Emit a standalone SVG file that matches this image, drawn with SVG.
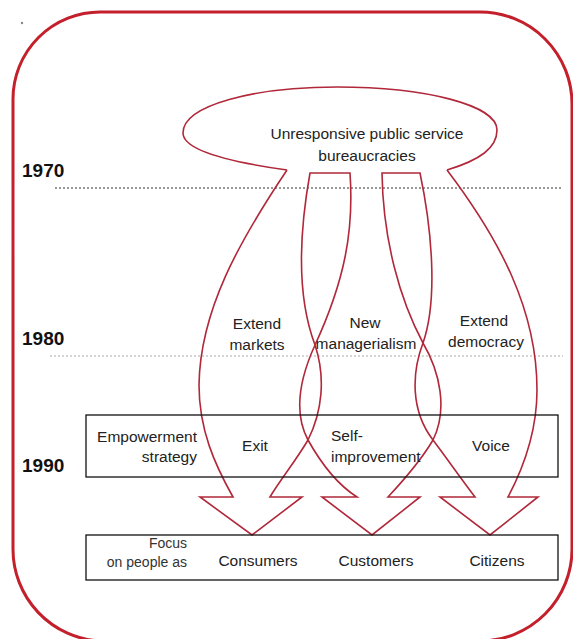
<svg xmlns="http://www.w3.org/2000/svg" width="573" height="639" viewBox="0 0 573 639">
<style>
.t{font-family:"Liberation Sans",Arial,sans-serif;font-size:15.5px;fill:#222}
.s{font-family:"Liberation Sans",Arial,sans-serif;font-size:14px;fill:#333}
.y{font-family:"Liberation Sans",Arial,sans-serif;font-size:19px;font-weight:bold;fill:#111}
.box{fill:none;stroke:#111;stroke-width:1.3}
.red{fill:none;stroke:#b0283a;stroke-width:1.6;stroke-linejoin:miter}
</style>
<rect width="573" height="639" fill="#fff"/>
<g id="frame">
<path d="M100,12 H480 A92,92 0 0 1 572,104 V549 A92,92 0 0 1 480,641 H100 A92,92 0 0 1 13,549 V99 A87,87 0 0 1 100,12 Z" fill="none" stroke="#c3202c" stroke-width="3"/>
<circle cx="22" cy="23" r="1.2" fill="#888"/>
</g>
<g id="timeline">
<line x1="55" y1="188" x2="563" y2="188" stroke="#333" stroke-width="1" stroke-dasharray="2,2"/>
<line x1="50" y1="356" x2="563" y2="356" stroke="#aaa" stroke-width="1" stroke-dasharray="2,2"/>
<text class="y" x="22" y="177">1970</text>
<text class="y" x="22" y="345">1980</text>
<text class="y" x="22" y="472">1990</text>
</g>
<g id="node-bureaucracies">
<path class="red" d="M447,170 C480,160 497,148 497,130 C497,105 425,87 337,87 C255,87 183,105 183,133 C183,150 230,162 287,170"/>
<text class="t" x="367" y="139" text-anchor="middle">Unresponsive public service</text>
<text class="t" x="367" y="161" text-anchor="middle">bureaucracies</text>
</g>
<g id="connectors">
<path class="red" d="M287,170 C240,240 200,310 199,385 C199,430 215,465 233,497 H200 L252,535 L302,497 H270 C280,480 295,462 308,440 C322,412 326,378 315,345 C298,300 298,240 310,173 H350 C354,230 345,280 315,345 C300,378 293,412 308,440 C322,465 338,485 357,497 H322 L372,535 L420,497 H388 C402,482 420,462 433,440 C448,410 440,372 423,343 C400,300 383,240 382,173 H420 C432,230 438,300 423,343 C412,372 410,410 433,440 C448,460 462,480 475,497 H440 L490,535 L538,497 H508 C525,465 537,430 537,390 C537,310 500,240 447,170"/>
</g>
<g id="labels">
<text class="t" x="257" y="329" text-anchor="middle">Extend</text>
<text class="t" x="257" y="350" text-anchor="middle">markets</text>
<text class="t" x="365" y="328" text-anchor="middle">New</text>
<text class="t" x="366" y="349" text-anchor="middle">managerialism</text>
<text class="t" x="484" y="326" text-anchor="middle">Extend</text>
<text class="t" x="486" y="347" text-anchor="middle">democracy</text>
</g>
<g id="node-strategy">
<rect class="box" x="86" y="415" width="472" height="62"/>
<text class="t" x="197" y="442" text-anchor="end">Empowerment</text>
<text class="t" x="197" y="462" text-anchor="end">strategy</text>
<text class="t" x="255" y="451" text-anchor="middle">Exit</text>
<text class="t" x="331" y="441">Self-</text>
<text class="t" x="331" y="462">improvement</text>
<text class="t" x="491" y="451" text-anchor="middle">Voice</text>
</g>
<g id="node-focus">
<rect class="box" x="86" y="535" width="472" height="45"/>
<text class="s" x="187" y="548" text-anchor="end">Focus</text>
<text class="s" x="187" y="567" text-anchor="end">on people as</text>
<text class="t" x="258" y="566" text-anchor="middle">Consumers</text>
<text class="t" x="376" y="566" text-anchor="middle">Customers</text>
<text class="t" x="497" y="566" text-anchor="middle">Citizens</text>
</g>
</svg>
